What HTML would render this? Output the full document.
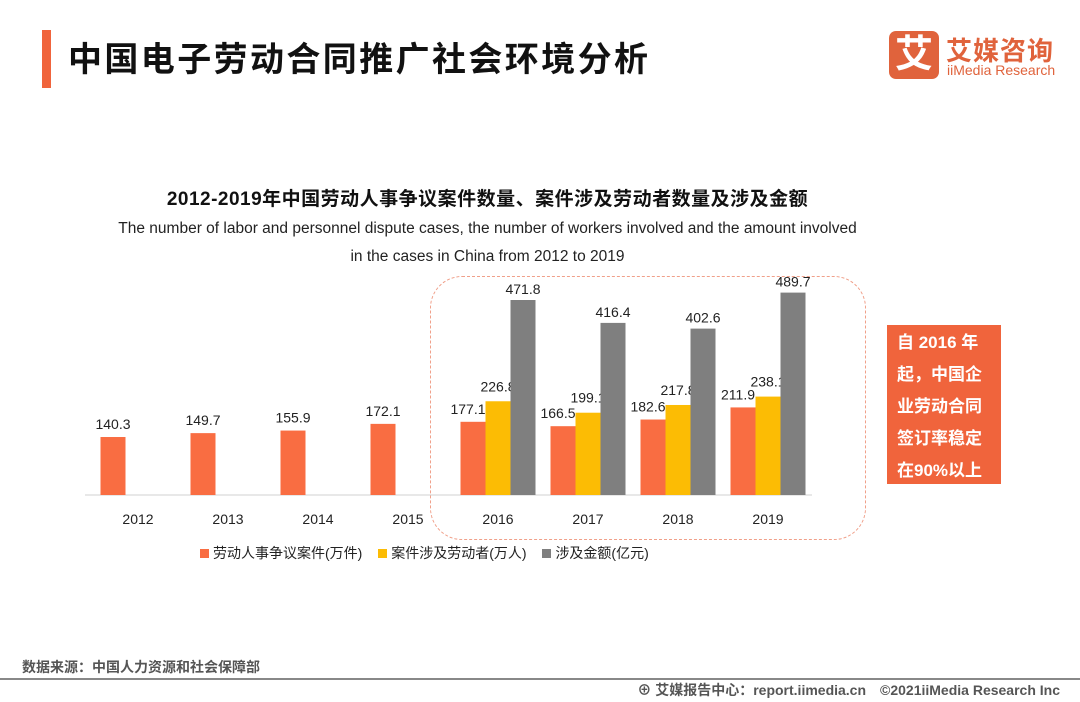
<!DOCTYPE html>
<html><head><meta charset="utf-8"><style>
body{margin:0;width:1080px;height:702px;background:#fff;position:relative;overflow:hidden;font-family:"Liberation Sans","Noto Sans CJK SC",sans-serif}
.abs{position:absolute}
</style></head><body>
<div class="abs" style="left:42px;top:30px;width:9px;height:58px;background:#f0643c"></div>
<div class="abs" style="left:68px;top:32px;font-size:34px;font-weight:bold;color:#111;letter-spacing:2.4px">中国电子劳动合同推广社会环境分析</div>
<div class="abs" style="left:889px;top:31px;width:50px;height:48px;background:#e0633c;border-radius:7px;color:#fff;font-size:38px;font-weight:bold;text-align:center;line-height:48px">艾</div>
<div class="abs" style="left:946px;top:31px;font-size:26px;font-weight:bold;color:#e0633c;letter-spacing:1px">艾媒咨询</div>
<div class="abs" style="left:947px;top:62px;font-size:14px;color:#e0633c">iiMedia Research</div>

<div class="abs" style="left:0;width:975px;top:184px;text-align:center;font-size:19px;font-weight:bold;color:#111;letter-spacing:0.5px">2012-2019年中国劳动人事争议案件数量、案件涉及劳动者数量及涉及金额</div>
<div class="abs" style="left:0;width:975px;top:215px;text-align:center;font-size:15.5px;line-height:28px;color:#222">The number of labor and personnel dispute cases, the number of workers involved and the amount involved<br>in the cases in China from 2012 to 2019</div>

<div class="abs" style="left:430px;top:276px;width:434px;height:262px;border:1.5px dashed #f0a08a;border-radius:32px"></div>
<div class="abs" style="left:887px;top:325px;width:114px;height:159px;background:#f0643c;color:#fff;font-weight:bold;font-size:17px;line-height:32px;padding:2px 0 0 10px;box-sizing:border-box">自 2016 年<br>起，中国企<br>业劳动合同<br>签订率稳定<br>在90%以上</div>

<svg class="abs" style="left:0;top:0" width="1080" height="702">
<g id="g"></g>
</svg>

<div class="abs" style="left:200px;top:543px;font-size:14px;color:#222;white-space:nowrap">
<span><span style="display:inline-block;width:9px;height:9px;background:#f96d42;margin-right:4px"></span>劳动人事争议案件(万件)</span>
<span style="margin-left:12px"><span style="display:inline-block;width:9px;height:9px;background:#fcbc04;margin-right:4px"></span>案件涉及劳动者(万人)</span>
<span style="margin-left:12px"><span style="display:inline-block;width:9px;height:9px;background:#7f7f7f;margin-right:4px"></span>涉及金额(亿元)</span>
</div>

<div class="abs" style="left:22px;top:657px;font-size:14px;font-weight:bold;color:#555">数据来源：中国人力资源和社会保障部</div>
<div class="abs" style="left:0;top:678px;width:1080px;height:2px;background:#888"></div>
<div class="abs" style="right:20px;top:680px;font-size:14px;font-weight:bold;color:#555">⊕ 艾媒报告中心：report.iimedia.cn　©2021iiMedia Research Inc</div>

<script>
const years=["2012","2013","2014","2015","2016","2017","2018","2019"];
const cases=[140.3,149.7,155.9,172.1,177.1,166.5,182.6,211.9];
const workers=[null,null,null,null,226.8,199.1,217.8,238.1];
const amount=[null,null,null,null,471.8,416.4,402.6,489.7];
const g=document.getElementById('g');
const NS='http://www.w3.org/2000/svg';
const base=495, k=195/471.8;
const xc=i=>138+i*90;
const y=v=>base-v*k;
function el(t,a){const e=document.createElementNS(NS,t);for(const p in a)e.setAttribute(p,a[p]);g.appendChild(e);return e;}
const ax=el('line',{x1:85,x2:812,y1:base,y2:base,stroke:'#d0d0d0','stroke-width':1});


const series=[[cases,'#f96d42',-25,'cases'],[workers,'#fcbc04',0,'workers'],[amount,'#7f7f7f',25,'amount']];
years.forEach((yr,i)=>{
  const t=el('text',{x:xc(i),y:524,'text-anchor':'middle','font-size':14,fill:'#222'});t.textContent=yr;
  
  
  series.forEach(([arr,c,off,nm])=>{
    const v=arr[i];if(v==null)return;
    const cx=xc(i)+off;
    const r=el('rect',{x:cx-12.5,y:y(v),width:25,height:base-y(v),fill:c});
    
    
    const l=el('text',{x:cx-(nm==='cases'&&i>=4?5:0),y:y(v)-(nm==='amount'?6:nm==='workers'?10:8),'text-anchor':'middle','font-size':14,fill:'#222'});l.textContent=v.toFixed(1);
    
    
  });
});
</script>
</body></html>
